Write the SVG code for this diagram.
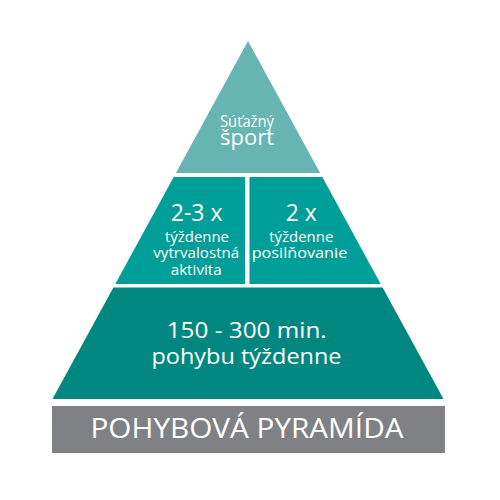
<svg xmlns="http://www.w3.org/2000/svg" width="500" height="500" viewBox="0 0 500 500">
<style>
text{font-family:"Open Sans","Noto Sans","DejaVu Sans",sans-serif;fill:#ffffff;text-anchor:middle}
.top{fill:#66b5b2}
.mid{fill:#009e99}
.bot{fill:#00877f}
.bar{fill:#808184}
</style>
<rect width="500" height="500" fill="#ffffff"/>
<g id="node-top">
<polygon class="top" points="248,41 320.1,173 175.9,173"/>
<text x="247" y="126.7" font-size="16" textLength="54" lengthAdjust="spacingAndGlyphs">Súťažný</text>
<text x="247" y="145" font-size="21" textLength="54" lengthAdjust="spacingAndGlyphs">šport</text>
</g>
<g id="node-left">
<polygon class="mid" points="173.7,177 245,177 245,284 115.3,284"/>
<text x="196.7" y="221" font-size="24" textLength="52" lengthAdjust="spacingAndGlyphs">2-3 x</text>
<text x="197" y="241.7" font-size="14" textLength="64" lengthAdjust="spacingAndGlyphs">týždenne</text>
<text x="196.3" y="258.3" font-size="14" textLength="86" lengthAdjust="spacingAndGlyphs">vytrvalostná</text>
<text x="196.2" y="275" font-size="14" textLength="51" lengthAdjust="spacingAndGlyphs">aktivita</text>
</g>
<g id="node-right">
<polygon class="mid" points="249.5,177 322.3,177 380.7,284 249.5,284"/>
<text x="301.2" y="221" font-size="24" textLength="31" lengthAdjust="spacingAndGlyphs">2 x</text>
<text x="301.3" y="241.7" font-size="14" textLength="64" lengthAdjust="spacingAndGlyphs">týždenne</text>
<text x="299.5" y="258.3" font-size="14" textLength="95.6" lengthAdjust="spacingAndGlyphs">posilňovanie</text>
</g>
<g id="node-bottom">
<polygon class="bot" points="113.4,287.5 382.6,287.5 443.5,399 52.5,399"/>
<text x="246.7" y="338.3" font-size="22" textLength="160" lengthAdjust="spacingAndGlyphs">150 - 300 min.</text>
<text x="246.5" y="364" font-size="22" textLength="190" lengthAdjust="spacingAndGlyphs">pohybu týždenne</text>
</g>
<g id="node-title">
<rect class="bar" x="52" y="406" width="393" height="47"/>
<text x="247" y="438.3" font-size="28" textLength="313" lengthAdjust="spacingAndGlyphs">POHYBOVÁ PYRAMÍDA</text>
</g>
<g id="connectors"></g>
</svg>
